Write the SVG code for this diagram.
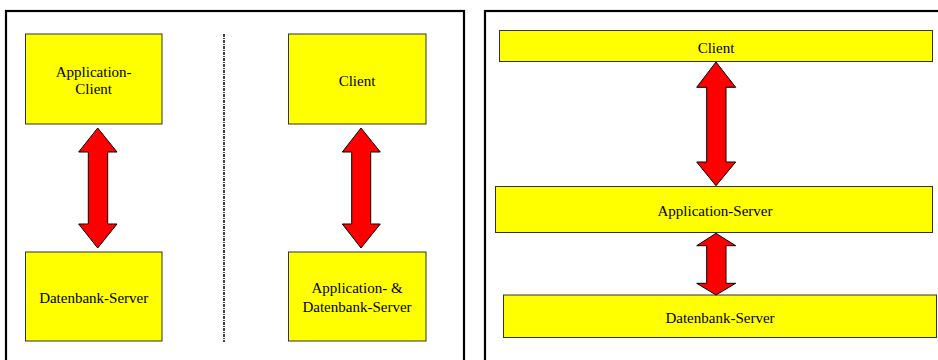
<svg xmlns="http://www.w3.org/2000/svg" width="938" height="360" viewBox="0 0 938 360">
<style>
.box{fill:#ffff00;stroke:#333;stroke-width:1}
.frame{fill:none;stroke:#000;stroke-width:2.2}
.arr{fill:#ff0000;stroke:#000;stroke-width:1;stroke-linejoin:miter}
text{font-family:"Liberation Serif","Times New Roman",serif;font-size:15px;fill:#000;text-anchor:middle}
</style>
<rect width="938" height="360" fill="#fff"/>
<g id="frames">
<rect class="frame" x="6" y="11" width="458" height="360"/>
<rect class="frame" x="485" y="11" width="470" height="360"/>
<line x1="224" y1="34" x2="224" y2="342" stroke="#000" stroke-width="1.5" stroke-dasharray="3,1,1,1"/>
</g>
<g id="n-app-client"><rect class="box" x="25.5" y="34" width="136.5" height="90"/><text x="93.7" y="76.5">Application-</text><text x="93.7" y="94.3">Client</text></g>
<g id="n-db-left"><rect class="box" x="25.5" y="252" width="136.5" height="89"/><text x="93.7" y="303.3">Datenbank-Server</text></g>
<g id="n-client-mid"><rect class="box" x="288.5" y="34" width="137.5" height="90"/><text x="357" y="85.7">Client</text></g>
<g id="n-appdb"><rect class="box" x="288.5" y="252" width="137.5" height="89"/><text x="357" y="293.3">Application- &amp;</text><text x="357" y="312.3">Datenbank-Server</text></g>
<g id="n-client-r"><rect class="box" x="499.5" y="30.5" width="433" height="31"/><text x="716" y="52.7">Client</text></g>
<g id="n-appserver"><rect class="box" x="495.5" y="186.5" width="437" height="46"/><text x="715" y="216">Application-Server</text></g>
<g id="n-db-r"><rect class="box" x="503.5" y="295" width="433" height="42.5"/><text x="720" y="323.3">Datenbank-Server</text></g>
<g id="connectors">
<path class="arr" d="M97.7,128 L117,152 L107.7,152 L107.7,224 L117,224 L97.7,248 L78.7,224 L88.3,224 L88.3,152 L78.7,152 Z"/>
<path class="arr" d="M361,128 L380.3,152 L370.7,152 L370.7,224 L380.3,224 L361,248 L342.3,224 L351.7,224 L351.7,152 L342.3,152 Z"/>
<path class="arr" d="M716,62 L735.7,87.3 L726,87.3 L726,162 L735.7,162 L716,185.7 L696.7,162 L706.7,162 L706.7,87.3 L696.7,87.3 Z"/>
<path class="arr" d="M716,233.3 L735.7,245.7 L726,245.7 L726,283.3 L735.7,283.3 L716,295 L696.7,283.3 L706.7,283.3 L706.7,245.7 L696.7,245.7 Z"/>
</g>
</svg>
